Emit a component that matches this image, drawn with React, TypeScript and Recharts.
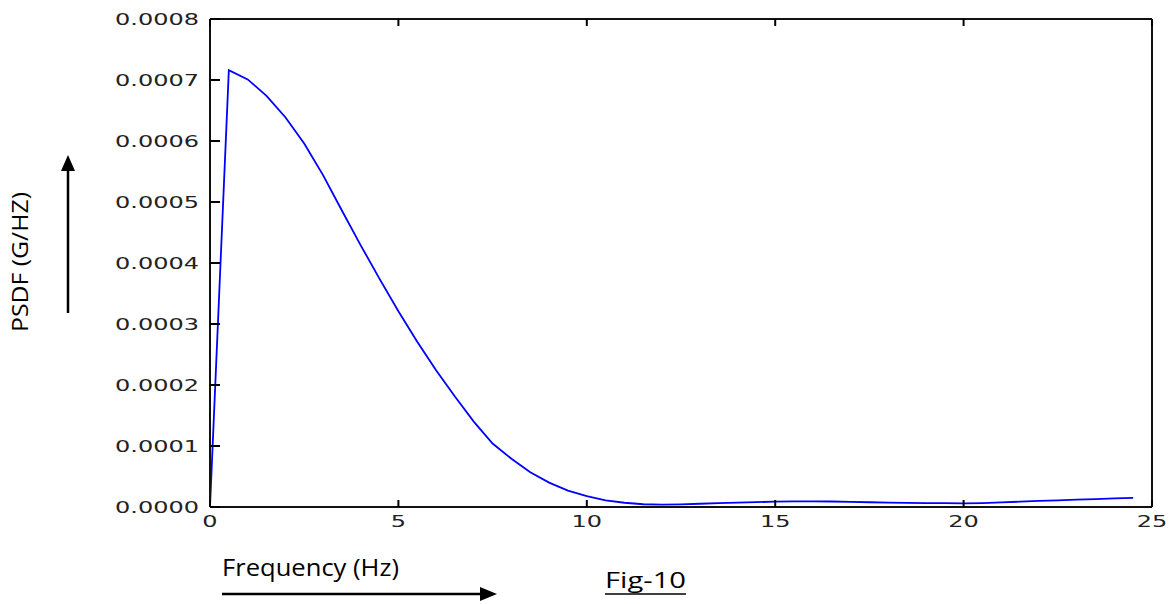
import React from 'react';
import { LineChart, Line, XAxis, YAxis } from 'recharts';

// frequency samples (Hz)
const freqs = [
  0, 0.5, 1, 1.5, 2, 2.5, 3, 3.5, 4, 4.5, 5, 5.5, 6, 6.5, 7, 7.5, 8, 8.5, 9, 9.5,
  10, 10.5, 11, 11.5, 12, 12.5, 13, 13.5, 14, 14.5, 15, 15.5, 16, 16.5, 17, 17.5,
  18, 18.5, 19, 19.5, 20, 20.5, 21, 21.5, 22, 22.5, 23, 23.5, 24, 24.5,
];

// PSDF values (G/Hz)
const psdf = [
  0, 0.000716, 0.000701, 0.000674, 0.000639, 0.000596, 0.000544, 0.000486, 0.000429, 0.000374,
  0.000321, 0.000271, 0.000224, 0.000181, 0.00014, 0.000104, 0.000079, 0.000057, 0.00004, 0.000027,
  0.000018, 0.000011, 0.000007, 0.0000045, 0.000004, 0.0000044, 0.0000053, 0.0000063, 0.0000072, 0.000008,
  0.0000087, 0.0000091, 0.0000093, 0.000009, 0.0000085, 0.0000078, 0.0000073, 0.0000069, 0.0000065, 0.0000062,
  0.000006, 0.0000065, 0.0000075, 0.0000087, 0.00001, 0.000011, 0.000012, 0.000013, 0.000014, 0.000015,
];

const xTicks = [0, 5, 10, 15, 20, 25];
const yTicks = [0, 0.0001, 0.0002, 0.0003, 0.0004, 0.0005, 0.0006, 0.0007, 0.0008];

const data = freqs.map((f, i) => ({ f, v: psdf[i] }));

const tickFont = "'DejaVu Sans', sans-serif";
const labelFont = "'Open Sans', sans-serif";
const axisColor = '#111';
const tickColor = '#000';

// inward tick marks (matplotlib style) + stretched labels
const BottomTick = (props: any) => {
  const { x, y, payload } = props;
  return (
    <g>
      <line x1={x} y1={y} x2={x} y2={y - 7} stroke={tickColor} strokeWidth={2} />
      <text
        transform={`translate(${x},${y + 20}) scale(1.5,1)`}
        textAnchor="middle"
        fontFamily={tickFont}
        fontSize={16}
        fill="#222"
      >
        {payload.value}
      </text>
    </g>
  );
};

const TopTick = (props: any) => {
  const { x, y } = props;
  return <line x1={x} y1={y} x2={x} y2={y + 7} stroke={tickColor} strokeWidth={2} />;
};

const LeftTick = (props: any) => {
  const { x, y, payload } = props;
  return (
    <g>
      <line x1={x} y1={y} x2={x + 10} y2={y} stroke={tickColor} strokeWidth={2} />
      <text
        transform={`translate(${x - 11},${y + 5.5}) scale(1.5,1)`}
        textAnchor="end"
        fontFamily={tickFont}
        fontSize={16}
        fill="#222"
      >
        {Number(payload.value).toFixed(4)}
      </text>
    </g>
  );
};

const RightTick = (props: any) => {
  const { x, y } = props;
  return <line x1={x} y1={y} x2={x - 10} y2={y} stroke={tickColor} strokeWidth={2} />;
};

export default function App() {
  return (
    <div style={{ position: 'absolute', left: 0, top: 0, width: 1169, height: 604, background: '#fff' }}>
      <LineChart
        width={1169}
        height={604}
        data={data}
        margin={{ top: 17, right: 15, left: 130, bottom: 67 }}
      >
        <XAxis
          xAxisId="bottom"
          dataKey="f"
          type="number"
          domain={[0, 25]}
          ticks={xTicks}
          height={30}
          tickSize={-6}
          tickMargin={6}
          tickLine={false}
          axisLine={{ stroke: axisColor, strokeWidth: 2 }}
          tick={<BottomTick />}
          interval={0}
        />
        <XAxis
          xAxisId="top"
          orientation="top"
          dataKey="f"
          type="number"
          domain={[0, 25]}
          ticks={xTicks}
          height={2}
          tickSize={-6}
          tickMargin={6}
          tickLine={false}
          axisLine={{ stroke: axisColor, strokeWidth: 2 }}
          tick={<TopTick />}
          interval={0}
        />
        <YAxis
          yAxisId="left"
          type="number"
          domain={[0, 0.0008]}
          ticks={yTicks}
          width={80}
          tickSize={-6}
          tickMargin={6}
          tickLine={false}
          axisLine={{ stroke: axisColor, strokeWidth: 2 }}
          tick={<LeftTick />}
          interval={0}
        />
        <YAxis
          yAxisId="right"
          orientation="right"
          type="number"
          domain={[0, 0.0008]}
          ticks={yTicks}
          width={2}
          tickSize={-6}
          tickMargin={6}
          tickLine={false}
          axisLine={{ stroke: axisColor, strokeWidth: 2 }}
          tick={<RightTick />}
          interval={0}
        />
        <Line
          xAxisId="bottom"
          yAxisId="left"
          type="linear"
          dataKey="v"
          stroke="#0000ff"
          strokeWidth={1.8}
          dot={false}
          isAnimationActive={false}
        />
      </LineChart>
      <svg
        width={1169}
        height={604}
        style={{ position: 'absolute', left: 0, top: 0, pointerEvents: 'none' }}
      >
        <text
          transform="translate(28,262) rotate(-90)"
          textAnchor="middle"
          fontFamily={labelFont}
          fontSize={22}
          textLength={140}
          lengthAdjust="spacingAndGlyphs"
          fill="#000"
        >
          PSDF (G/HZ)
        </text>
        <line x1={68} y1={313} x2={68} y2={168} stroke="#000" strokeWidth={2.5} />
        <polygon points="68,155 61,171 75,171" fill="#000" />
        <text
          x={222}
          y={576}
          fontFamily={labelFont}
          fontSize={23}
          textLength={177}
          lengthAdjust="spacingAndGlyphs"
          fill="#000"
        >
          Frequency (Hz)
        </text>
        <line x1={222} y1={594} x2={482} y2={594} stroke="#000" strokeWidth={2.5} />
        <polygon points="497,594 480,587 480,601" fill="#000" />
        <text
          x={605}
          y={588}
          fontFamily={labelFont}
          fontSize={22}
          textLength={81}
          lengthAdjust="spacingAndGlyphs"
          fill="#000"
        >
          Fig-10
        </text>
        <line x1={605} y1={594} x2={686} y2={594} stroke="#000" strokeWidth={1.5} />
      </svg>
    </div>
  );
}
